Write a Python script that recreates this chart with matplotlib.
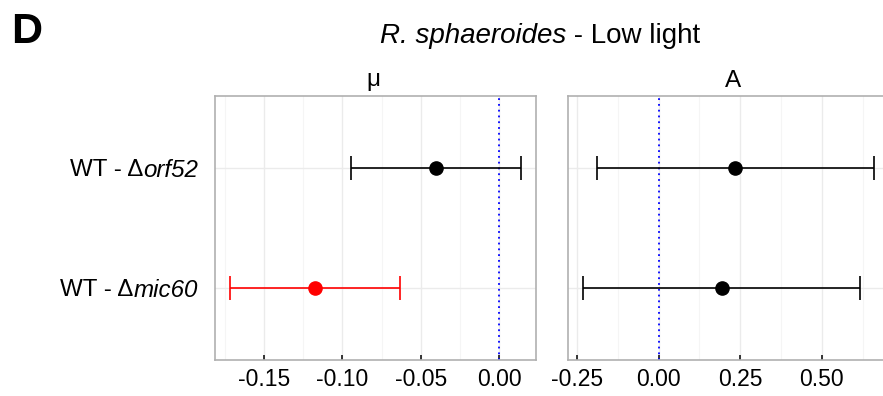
import numpy as np
import matplotlib
matplotlib.use('Agg')
import matplotlib.pyplot as plt
from matplotlib.ticker import FixedLocator

plt.rcParams['font.family'] = ['Liberation Sans', 'DejaVu Sans']

# comparisons (top row first): plain part + italic gene name
group_pre = ['WT - Δ', 'WT - Δ']
group_gene = ['orf52', 'mic60']

# growth rate (mu) differences: estimate and CI
mu_est = [-0.0402, -0.1175]
mu_lo = [-0.0945, -0.1718]
mu_hi = [0.0140, -0.0632]
mu_col = ['black', 'red']

# asymptote (A) differences
a_est = [0.2356, 0.1930]
a_lo = [-0.1900, -0.2326]
a_hi = [0.6610, 0.6180]
a_col = ['black', 'black']

W, H = 883, 396
fig = plt.figure(figsize=(W / 100, H / 100), dpi=100)
renderer = fig.canvas.get_renderer()

def px_axes(x0, x1, y0, y1):
    return fig.add_axes([x0 / W, 1 - y1 / H, (x1 - x0) / W, (y1 - y0) / H])

def text_width(t):
    return t.get_window_extent(renderer=renderer).width

ax_mu = px_axes(215, 536, 96, 360)
ax_a = px_axes(568, 889, 96, 360)

ypos = [2, 1]

def draw_panel(ax, est, lo, hi, cols, xlim, major, minor, labels):
    for y, e, l, h, c in zip(ypos, est, lo, hi, cols):
        ax.errorbar(e, y, xerr=[[e - l], [h - e]], fmt='o', color=c, ms=9.5,
                    elinewidth=1.2, capsize=8.5, capthick=1.2, zorder=3)
    ax.axvline(0, color='blue', linestyle=(0, (1, 2.2)), lw=1.3, zorder=2)
    ax.set_xlim(*xlim)
    ax.set_ylim(0.4, 2.6)
    ax.xaxis.set_major_locator(FixedLocator(major))
    ax.xaxis.set_minor_locator(FixedLocator(minor))
    ax.set_xticklabels(labels)
    ax.set_yticks(ypos)
    ax.set_yticklabels([])
    ax.set_axisbelow(True)
    ax.grid(True, which='major', color='#ebebeb', lw=1.0)
    ax.grid(True, which='minor', axis='x', color='#f5f5f5', lw=0.8)
    for s in ax.spines.values():
        s.set_color('#b0b0b0')
        s.set_linewidth(1.2)
    ax.tick_params(axis='x', which='major', direction='in', length=3.8, width=1.1,
                   color='black', labelsize=16.5, pad=6)
    ax.tick_params(axis='x', which='minor', length=0)
    ax.tick_params(axis='y', length=0)

draw_panel(ax_mu, mu_est, mu_lo, mu_hi, mu_col, (-0.1813, 0.0236),
           [-0.15, -0.10, -0.05, 0.00], [-0.175, -0.125, -0.075, -0.025, 0.025],
           ['-0.15', '-0.10', '-0.05', '0.00'])
draw_panel(ax_a, a_est, a_lo, a_hi, a_col, (-0.2773, 0.7057),
           [-0.25, 0.0, 0.25, 0.5], [-0.125, 0.125, 0.375, 0.625],
           ['-0.25', '0.00', '0.25', '0.50'])

# y labels: plain part + italic gene, right aligned left of the panel
label_x = 198 / W
for y, pre, gene in zip(ypos, group_pre, group_gene):
    yf = ax_mu.transData.transform((0, y))[1] / H
    tg = fig.text(label_x, yf, gene, ha='right', va='center_baseline',
                  fontsize=17.4, style='italic')
    wg = text_width(tg) / W
    fig.text(label_x - wg, yf, pre, ha='right', va='center_baseline', fontsize=17.4)

# strip titles
fig.text(373 / W, 1 - 86 / H, 'μ', ha='center', va='baseline', fontsize=17.5)
fig.text(733 / W, 1 - 87 / H, 'A', ha='center', va='baseline', fontsize=17.5)

# overall title: italic species + plain condition, centred
ty = 1 - 43 / H
t1 = fig.text(0, ty, 'R. sphaeroides', ha='left', va='baseline', fontsize=20, style='italic')
t2 = fig.text(0, ty, ' - Low light', ha='left', va='baseline', fontsize=20)
w1, w2 = text_width(t1), text_width(t2)
x_start = 540 - (w1 + w2) / 2
t1.set_x(x_start / W)
t2.set_x((x_start + w1) / W)

fig.text(11 / W, 1 - 43 / H, 'D', ha='left', va='baseline', fontsize=31, fontweight='bold')

fig.savefig('out.png', dpi=100)
